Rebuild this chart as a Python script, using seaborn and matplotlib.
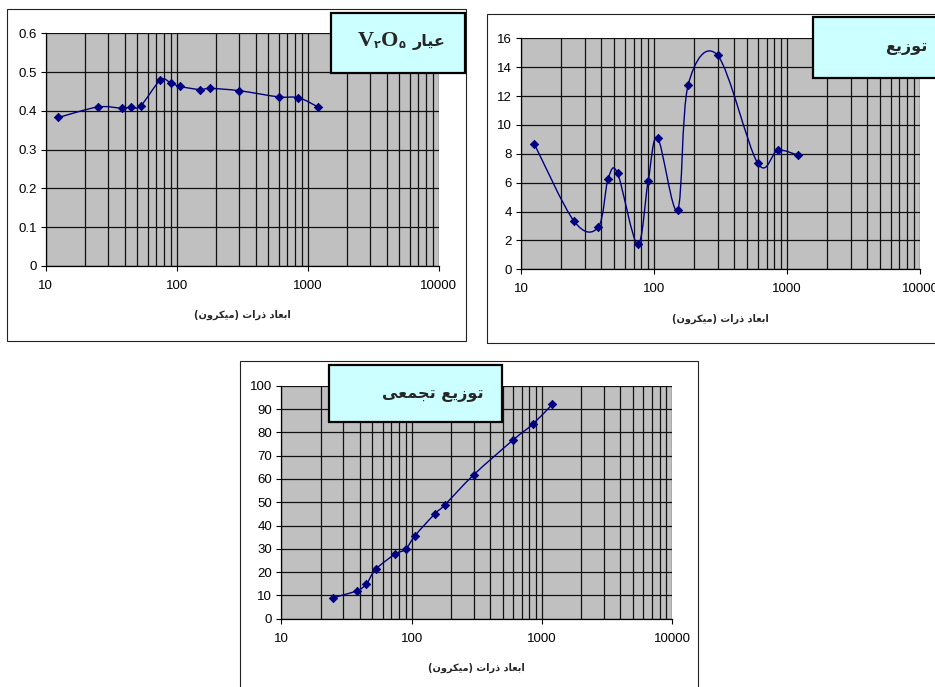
import numpy as np
import matplotlib
matplotlib.use("Agg")
import matplotlib.pyplot as plt
import seaborn as sns
from matplotlib.patches import Rectangle, PathPatch
from matplotlib.path import Path
from matplotlib.ticker import LogLocator, FuncFormatter, MultipleLocator, NullFormatter, FixedLocator

# ---------------- data ----------------
sizes = [12.5, 25, 38, 45, 53, 75, 90, 106, 150, 180, 300, 600, 850, 1200]
grade_v2o5 = [0.383, 0.410, 0.407, 0.410, 0.4125, 0.479, 0.472, 0.463, 0.455, 0.458, 0.452, 0.436, 0.434, 0.410]
distribution = [8.70, 3.32, 2.93, 6.27, 6.65, 1.73, 6.09, 9.11, 4.10, 12.76, 14.82, 7.36, 8.24, 7.91]
cum_sizes = [25, 38, 45, 53, 75, 90, 106, 150, 180, 300, 600, 850, 1200]
cumulative = [9.0, 12.0, 14.9, 21.2, 27.8, 29.8, 35.6, 44.9, 48.9, 61.8, 76.7, 83.5, 92.0]

x_ticks = [10, 100, 1000, 10000]
xlabel_text = "ابعاد ذرات (میکرون)"
title1_word = "عیار"
title1_formula = ["V", "۲", "O", "۵"]
title2 = "توزیع"
title3 = "توزیع تجمعی"

# ---------------- simple Arabic/Persian shaping (visual order) ----------------
FORMS = {
    'ا': (0xFE8D, 0xFE8E, None, None),
    'ب': (0xFE8F, 0xFE90, 0xFE91, 0xFE92),
    'ت': (0xFE95, 0xFE96, 0xFE97, 0xFE98),
    'ج': (0xFE9D, 0xFE9E, 0xFE9F, 0xFEA0),
    'د': (0xFEA9, 0xFEAA, None, None),
    'ذ': (0xFEAB, 0xFEAC, None, None),
    'ر': (0xFEAD, 0xFEAE, None, None),
    'ز': (0xFEAF, 0xFEB0, None, None),
    'ع': (0xFEC9, 0xFECA, 0xFECB, 0xFECC),
    'م': (0xFEE1, 0xFEE2, 0xFEE3, 0xFEE4),
    'ن': (0xFEE5, 0xFEE6, 0xFEE7, 0xFEE8),
    'و': (0xFEED, 0xFEEE, None, None),
    'ی': (0xFBFC, 0xFBFD, 0xFBFE, 0xFBFF),
    'ک': (0xFB8E, 0xFB8F, 0xFB90, 0xFB91),
}


def shape(text):
    out = []
    n = len(text)
    for i, c in enumerate(text):
        if c not in FORMS:
            out.append(c)
            continue
        p = text[i - 1] if i > 0 else None
        nx = text[i + 1] if i < n - 1 else None
        join_prev = p in FORMS and FORMS[p][2] is not None
        join_next = FORMS[c][2] is not None and nx in FORMS
        iso, fin, ini, med = FORMS[c]
        if join_prev and join_next:
            code = med
        elif join_prev:
            code = fin
        elif join_next:
            code = ini
        else:
            code = iso
        out.append(chr(code))
    vis = "".join(reversed(out))
    swap = {"(": ")", ")": "("}
    return "".join(swap.get(ch, ch) for ch in vis)


# ---------------- style ----------------
sns.set_style("ticks")
plt.rcParams["font.family"] = ["Liberation Sans", "DejaVu Sans"]
NAVY = "#000080"
GRID = "#111111"
BG = "#C0C0C0"
ARFONT = ["DejaVu Sans"]

W, H = 935, 687
fig = plt.figure(figsize=(W / 100, H / 100), dpi=100)
fig.patch.set_facecolor("white")


def frac_rect(x0, y0, x1, y1):
    return (x0 / W, 1 - y1 / H, (x1 - x0) / W, (y1 - y0) / H)


def smooth_path(xs, ys):
    u = np.log10(np.asarray(xs, float))
    v = np.asarray(ys, float)
    n = len(u)
    verts = [(xs[0], ys[0])]
    codes = [Path.MOVETO]
    for i in range(n - 1):
        i0 = max(i - 1, 0)
        i3 = min(i + 2, n - 1)
        c1u = u[i] + (u[i + 1] - u[i0]) / 6
        c1v = v[i] + (v[i + 1] - v[i0]) / 6
        c2u = u[i + 1] - (u[i3] - u[i]) / 6
        c2v = v[i + 1] - (v[i3] - v[i]) / 6
        verts += [(10 ** c1u, c1v), (10 ** c2u, c2v), (xs[i + 1], ys[i + 1])]
        codes += [Path.CURVE4] * 3
    return Path(verts, codes)


def make_panel(rect, xs, ys, ymax, ystep):
    ax = fig.add_axes(frac_rect(*rect))
    ax.set_facecolor(BG)
    ax.set_xscale("log")
    ax.set_xlim(10, 10000)
    ax.set_ylim(0, ymax)
    ax.xaxis.set_major_locator(FixedLocator(x_ticks))
    ax.xaxis.set_minor_locator(LogLocator(base=10, subs=np.arange(2, 10)))
    ax.xaxis.set_minor_formatter(NullFormatter())
    ax.xaxis.set_major_formatter(FuncFormatter(lambda v, _: f"{int(round(v))}"))
    ax.yaxis.set_major_locator(MultipleLocator(ystep))
    ax.yaxis.set_major_formatter(FuncFormatter(lambda v, _: f"{v:g}"))
    ax.grid(which="major", axis="both", color=GRID, lw=0.9)
    ax.grid(which="minor", axis="x", color=GRID, lw=0.9)
    ax.set_axisbelow(True)
    for s in ("top", "right"):
        ax.spines[s].set_visible(False)
    for s in ("left", "bottom"):
        ax.spines[s].set_color("black")
        ax.spines[s].set_linewidth(0.9)
    ax.tick_params(axis="both", which="major", direction="out", length=3.6, width=0.8,
                   color="black", labelsize=9.5, labelcolor="black")
    ax.tick_params(axis="x", which="major", pad=6.5)
    ax.tick_params(axis="y", which="major", pad=3)
    ax.tick_params(axis="x", which="minor", length=0)
    ax.add_patch(PathPatch(smooth_path(xs, ys), fill=False, edgecolor=NAVY, lw=1.0, zorder=3))
    sns.scatterplot(x=xs, y=ys, marker="D", color=NAVY, edgecolor=NAVY, linewidth=0.6,
                    s=18, ax=ax, zorder=4, legend=False)
    ax.set_xlabel(shape(xlabel_text), family=ARFONT, weight="bold", fontsize=7, labelpad=13)
    ax.set_ylabel("")
    return ax


ax1 = make_panel((45.7, 33.3, 438.7, 266.0), sizes, grade_v2o5, 0.6, 0.1)
ax2 = make_panel((521.3, 38.3, 920.0, 269.3), sizes, distribution, 16, 2)
ax3 = make_panel((281.3, 385.7, 672.3, 618.7), cum_sizes, cumulative, 100, 10)

# outer chart frames
for (x0, y0, x1, y1) in [(7.3, 9.0, 465.7, 340.7), (487.3, 14.0, 945, 343.3), (240.0, 361.0, 698.0, 695)]:
    fig.add_artist(Rectangle((x0 / W, 1 - y1 / H), (x1 - x0) / W, (y1 - y0) / H,
                             transform=fig.transFigure, fill=False, edgecolor="#222222",
                             lw=0.8, zorder=0.5))

# title boxes
BOX = "#CCFFFF"
boxes = [(331.0, 12.7, 465.0, 72.7), (813.0, 17.3, 950.0, 78.3), (329.3, 365.0, 502.3, 422.0)]
for (x0, y0, x1, y1) in boxes:
    fig.add_artist(Rectangle((x0 / W, 1 - y1 / H), (x1 - x0) / W, (y1 - y0) / H,
                             transform=fig.transFigure, facecolor=BOX, edgecolor="black",
                             lw=1.6, zorder=5))

# titles 2 and 3 (right-aligned inside box)
fig.text(927 / W, 1 - 47.5 / H, shape(title2), ha="right", va="center", family=ARFONT,
         weight="bold", fontsize=11.5, zorder=6)
fig.text(483 / W, 1 - 394.5 / H, shape(title3), ha="right", va="center", family=ARFONT,
         weight="bold", fontsize=11.5, zorder=6)

# title 1: "V۲O۵ عیار"
renderer = fig.canvas.get_renderer()
base_y = 1 - 45.5 / H
t_ar = fig.text(445 / W, base_y, shape(title1_word), ha="right", va="baseline", family=ARFONT,
                weight="bold", fontsize=11.5, zorder=6)
x_left = t_ar.get_window_extent(renderer).x0 - 7
pieces = []
for k, ch in enumerate(title1_formula):
    if k % 2 == 0:
        pieces.append((ch, ["Liberation Serif"], 16, 0.0))
    else:
        pieces.append((ch, ARFONT, 8, -2.0))
widths = []
for ch, fam, fs, dy in pieces:
    t = fig.text(0, 0, ch, family=fam, weight="bold", fontsize=fs)
    widths.append(t.get_window_extent(renderer).width)
    t.remove()
x = x_left - sum(widths)
for (ch, fam, fs, dy), wdt in zip(pieces, widths):
    fig.text(x / W, base_y + dy / H, ch, ha="left", va="baseline", family=fam,
             weight="bold", fontsize=fs, zorder=6)
    x += wdt

fig.savefig("out.png", dpi=100)
